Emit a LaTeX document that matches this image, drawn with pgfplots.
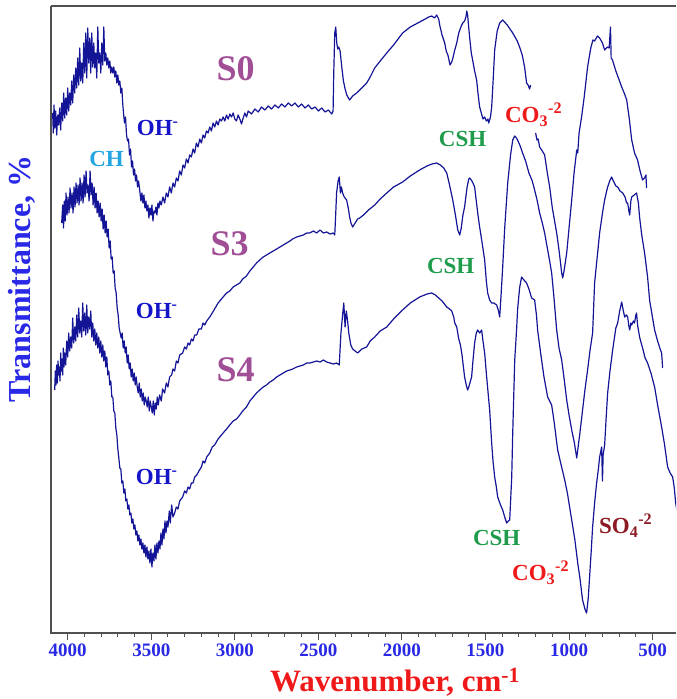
\documentclass[border=0pt]{standalone}
\usepackage{fontspec}
\setmainfont{Liberation Serif}
\usepackage{pgfplots}
\pgfplotsset{compat=1.18}
\usetikzlibrary{calc}
\definecolor{specblue}{RGB}{20,20,150}
\definecolor{slab}{RGB}{160,78,150}
\definecolor{ohblue}{RGB}{20,20,200}
\definecolor{chblue}{RGB}{35,165,225}
\definecolor{cshgreen}{RGB}{30,155,75}
\definecolor{cored}{RGB}{240,25,25}
\definecolor{sodark}{RGB}{140,25,35}
\definecolor{tickblue}{RGB}{40,40,230}
\definecolor{axisgray}{RGB}{80,80,80}
\newcommand{\lab}[1]{\fontsize{#1}{#1}\selectfont\bfseries}
\tikzset{spec/.style={draw=specblue, line width=1.2pt, line join=round, mark=none}}
\begin{document}
\begin{tikzpicture}
\begin{axis}[
  scale only axis, width=625pt, height=627pt,
  xmin=360, xmax=4100, x dir=reverse,
  ymin=0, ymax=627,
  axis line style={draw=none},
  ytick=\empty,
  xtick={500,1000,...,4000},
  minor x tick num=4,
  xtick pos=bottom,
  xtick align=outside,
  major tick length=7pt, minor tick length=4pt,
  every tick/.style={axisgray, line width=1pt},
  xticklabel style={font=\lab{19}, text=tickblue},
  /pgf/number format/1000 sep={},
  /pgf/number format/assume math mode=true,
]
% S0 main
\addplot[spec] table {
4090 520
4086 500
4082 528
4077 505
4072 522
4066 498
4060 518
4054 508
4048 525
4042 503
4036 530
4030 512
4024 540
4018 515
4012 535
4006 518
4000 545
3994 522
3988 540
3982 528
3976 552
3970 530
3964 558
3958 540
3952 565
3946 545
3940 575
3934 548
3928 585
3922 552
3916 570
3910 550
3904 590
3898 560
3892 600
3886 555
3880 605
3874 570
3868 595
3862 560
3856 600
3850 566
3844 590
3838 565
3832 580
3826 555
3820 606
3814 570
3808 580
3802 560
3796 590
3790 568
3784 606
3778 572
3772 580
3766 568
3760 575
3754 565
3748 572
3742 560
3736 566
3730 560
3724 566
3718 556
3712 562
3706 550
3700 558
3694 548
3688 552
3682 540
3676 545
3671 530
3666 520
3660 510
3654 516
3648 498
3642 492
3636 494
3630 478
3624 484
3618 466
3612 472
3606 458
3600 464
3594 452
3588 458
3582 446
3576 452
3570 444
3562 432
3556 440
3550 430
3544 438
3538 425
3532 432
3526 422
3520 428
3514 415
3508 425
3502 418
3496 428
3490 412
3484 422
3478 420
3472 426
3466 418
3460 430
3454 425
3448 432
3440 428
3430 436
3420 430
3410 440
3400 436
3390 446
3380 440
3370 450
3360 446
3350 455
3340 452
3330 462
3320 458
3310 468
3300 465
3290 474
3280 470
3270 478
3260 476
3250 484
3240 480
3230 490
3220 486
3210 494
3200 490
3190 498
3180 495
3170 502
3160 500
3150 506
3140 502
3130 510
3120 506
3110 512
3100 508
3090 514
3080 512
3070 516
3060 512
3050 518
3040 514
3030 519
3020 516
3010 520
3000 514
2990 512
2980 518
2970 514
2960 509
2950 515
2940 520
2930 516
2920 522
2900 519
2880 524
2860 521
2840 526
2820 523
2800 527
2780 524
2760 528
2740 525
2720 529
2700 526
2680 530
2660 527
2640 530
2620 526
2600 529
2580 525
2560 528
2540 524
2520 526
2500 522
2480 525
2460 521
2440 523
2420 519
2412 522
2408 560
2402 600
2396 606
2390 590
2384 584
2378 586
2370 582
2360 566
2350 552
2340 544
2330 538
2313 533
2295 537
2271 540
2240 545
2211 550
2190 556
2163 565
2130 572
2091 580
2050 588
1996 600
1950 606
1894 611
1860 614
1840 616
1822 617
1805 615
1792 618
1780 614
1774 608
1760 598
1744 590
1735 582
1725 578
1712 568
1702 571
1695 575
1684 583
1672 590
1660 600
1645 607
1636 610
1625 612
1617 616
1612 622
1607 618
1600 605
1595 596
1585 580
1577 573
1565 562
1553 553
1545 540
1535 526
1525 520
1515 514
1505 516
1495 512
1485 514
1481 510
1470 516
1463 526
1455 550
1445 583
1430 602
1415 610
1397 613
1370 608
1337 600
1310 592
1296 586
1280 578
1266 566
1254 550
1245 548
1236 544
1230 548
};
% S0 second piece
\addplot[spec] table {
1200 500
1192 493
1185 494
1176 486
1160 482
1146 478
1130 460
1116 446
1100 425
1074 400
1060 383
1044 360
1038 355
1030 362
1014 380
1000 405
984 433
970 460
954 483
948 480
940 500
925 516
910 535
889 566
870 585
857 593
847 592
830 597
817 595
800 590
787 583
770 586
760 585
752 606
748 575
740 573
720 562
700 553
685 546
670 540
655 533
640 515
625 493
608 480
590 473
575 462
560 453
548 455
540 458
536 445
};
% S3
\addplot[spec] table {
4036 410
4030 428
4025 405
4020 432
4015 412
4010 440
4004 418
3998 436
3992 420
3986 445
3980 425
3974 440
3968 420
3962 446
3956 426
3950 450
3944 430
3938 448
3932 428
3926 455
3920 432
3914 450
3908 430
3902 458
3896 436
3890 462
3884 440
3878 448
3872 432
3866 462
3860 438
3854 450
3848 428
3842 446
3836 425
3830 440
3824 420
3818 432
3812 416
3806 430
3800 412
3794 424
3788 404
3782 418
3776 400
3770 412
3764 396
3758 404
3752 385
3746 392
3740 374
3734 376
3728 360
3722 362
3716 345
3710 340
3704 325
3698 318
3692 305
3686 300
3680 295
3674 300
3668 285
3662 292
3656 280
3650 286
3644 270
3638 278
3632 264
3626 270
3620 256
3614 264
3608 252
3602 260
3596 248
3590 256
3584 246
3578 240
3572 250
3566 236
3560 244
3554 232
3548 240
3542 228
3536 236
3530 232
3524 226
3518 236
3512 222
3506 232
3500 226
3494 220
3488 232
3482 218
3476 230
3470 224
3464 236
3458 228
3450 238
3440 232
3432 244
3420 240
3410 250
3400 246
3390 256
3378 258
3370 264
3360 262
3350 272
3340 270
3330 278
3312 280
3300 286
3290 284
3280 290
3270 288
3260 294
3250 292
3240 298
3228 298
3215 304
3200 304
3190 310
3180 308
3168 312
3150 316
3135 320
3121 324
3100 330
3080 334
3060 338
3049 340
3030 342
3010 346
2990 348
2970 350
2953 354
2930 357
2910 362
2890 366
2870 370
2851 373
2830 376
2810 378
2790 380
2770 382
2750 384
2730 386
2710 388
2690 390
2670 392
2654 394
2630 396
2610 397
2590 398
2570 400
2552 400
2530 402
2510 400
2490 403
2470 400
2450 401
2430 399
2410 400
2402 398
2396 420
2391 440
2382 452
2375 456
2368 440
2362 446
2355 440
2345 436
2331 433
2320 424
2313 416
2305 410
2295 406
2280 410
2265 414
2253 415
2230 418
2200 423
2163 428
2130 434
2091 440
2050 446
1996 451
1950 457
1894 463
1850 467
1820 469
1792 470
1770 468
1750 465
1732 460
1715 448
1696 433
1680 418
1666 403
1654 398
1645 405
1635 418
1625 426
1610 446
1600 454
1595 455
1585 453
1575 450
1565 446
1555 432
1545 418
1535 406
1520 390
1505 373
1495 352
1487 340
1475 333
1463 330
1450 330
1433 328
1422 322
1415 316
1406 340
1397 366
1385 405
1367 450
1350 478
1337 493
1325 497
1314 495
1300 490
1290 486
1278 480
1260 472
1240 460
1220 452
1206 443
1190 432
1176 420
1160 410
1146 400
1130 385
1116 372
1104 360
1090 335
1074 303
1060 285
1044 273
1030 255
1014 233
1000 218
984 203
968 190
954 175
948 183
935 200
919 223
905 243
889 263
875 282
859 300
853 325
847 350
835 370
817 400
800 420
787 433
775 442
769 446
757 452
745 456
735 452
720 447
709 446
695 442
679 440
665 436
655 430
649 430
642 422
637 418
630 432
625 436
610 438
596 440
585 430
578 416
565 398
548 380
530 356
518 333
500 315
488 303
470 292
455 284
446 280
440 265
};
% S4
\addplot[spec] table {
4078 243
4074 262
4070 248
4066 268
4062 250
4058 272
4054 258
4050 266
4046 252
4042 280
4038 262
4034 274
4030 258
4026 285
4022 266
4018 280
4012 268
4006 292
4000 276
3994 300
3988 282
3982 296
3976 285
3970 315
3964 290
3958 306
3952 292
3946 318
3940 296
3934 325
3928 300
3922 312
3916 296
3910 330
3904 302
3898 320
3892 298
3886 328
3880 300
3874 316
3868 304
3862 322
3856 296
3850 310
3844 292
3838 304
3832 288
3826 300
3820 285
3814 296
3808 280
3802 292
3796 276
3790 288
3784 272
3778 282
3772 266
3766 276
3760 258
3754 262
3748 248
3742 252
3736 236
3730 236
3724 222
3718 220
3712 205
3706 198
3700 184
3694 175
3688 165
3682 164
3676 150
3670 152
3664 140
3658 144
3652 132
3646 134
3640 124
3634 128
3628 118
3622 120
3616 110
3610 114
3604 104
3598 108
3592 98
3586 102
3580 92
3574 98
3568 88
3562 94
3556 84
3550 90
3544 80
3538 88
3532 76
3526 86
3520 74
3514 82
3508 70
3502 84
3496 66
3490 80
3484 72
3478 88
3472 74
3466 90
3460 80
3454 92
3448 84
3442 100
3436 88
3430 104
3424 94
3418 112
3412 100
3406 112
3400 106
3392 122
3386 110
3378 128
3370 116
3360 120
3350 126
3340 124
3330 132
3312 136
3300 142
3290 140
3280 146
3270 144
3260 150
3250 150
3240 156
3228 158
3215 162
3200 166
3190 172
3180 170
3168 176
3150 180
3135 186
3121 188
3100 194
3080 198
3060 202
3049 204
3030 208
3010 212
2990 214
2970 218
2953 222
2930 226
2910 232
2890 236
2870 240
2851 243
2830 246
2810 248
2790 251
2770 253
2750 256
2730 258
2710 260
2690 262
2670 263
2654 264
2630 266
2610 267
2590 268
2570 270
2552 270
2530 271
2510 272
2490 271
2470 273
2450 271
2430 270
2410 269
2390 270
2375 268
2365 300
2355 318
2348 330
2340 306
2333 322
2325 312
2318 300
2306 288
2295 284
2280 282
2265 280
2240 284
2211 286
2190 292
2163 296
2130 302
2091 306
2050 314
1996 323
1950 330
1894 336
1850 339
1822 340
1800 338
1780 335
1760 332
1732 326
1715 324
1702 322
1690 316
1684 310
1672 306
1660 294
1650 288
1642 280
1632 266
1625 256
1615 248
1607 243
1600 246
1590 252
1583 256
1575 272
1565 290
1555 300
1547 303
1535 300
1523 303
1515 292
1505 280
1493 256
1475 223
1463 190
1455 172
1445 156
1435 146
1427 136
1410 128
1397 123
1385 116
1373 110
1363 112
1355 113
1343 156
1337 200
1325 273
1314 303
1308 323
1296 345
1284 356
1270 353
1254 350
1240 344
1224 335
1206 333
1195 318
1188 303
1170 280
1150 256
1128 236
1116 232
1104 228
1090 212
1068 183
1050 170
1026 153
1010 140
984 113
965 93
948 70
935 55
919 33
905 24
895 20
885 35
877 56
868 80
859 106
847 130
835 150
825 163
817 176
805 186
800 152
796 178
787 188
778 215
769 240
755 262
739 283
720 305
709 310
697 322
685 331
675 322
667 316
657 318
649 316
643 308
637 303
630 310
625 308
615 312
608 310
600 318
596 320
590 308
578 296
560 285
545 275
530 270
510 260
488 246
470 228
446 206
430 190
410 166
395 160
380 156
370 145
362 130
350 118
};
% annotations
\node[font=\lab{36}, text=slab] at (axis cs:2995,564) {S0};
\node[font=\lab{36}, text=slab] at (axis cs:3031,389) {S3};
\node[font=\lab{36}, text=slab] at (axis cs:2995,263) {S4};
\node[font=\lab{23}, text=ohblue] at (axis cs:3461,505) {OH\textsuperscript{-}};
\node[font=\lab{23}, text=chblue] at (axis cs:3767,474) {CH};
\node[font=\lab{23}, text=ohblue] at (axis cs:3467,322) {OH\textsuperscript{-}};
\node[font=\lab{23}, text=ohblue] at (axis cs:3467,156) {OH\textsuperscript{-}};
\node[font=\lab{23}, text=cshgreen] at (axis cs:1637,494) {CSH};
\node[font=\lab{23}, text=cshgreen] at (axis cs:1708,367) {CSH};
\node[font=\lab{23}, text=cshgreen] at (axis cs:1433,95) {CSH};
\node[font=\lab{23}, text=cored] at (axis cs:1212,518) {CO\textsubscript{3}\textsuperscript{-2}};
\node[font=\lab{23}, text=cored] at (axis cs:1170,60) {CO\textsubscript{3}\textsuperscript{-2}};
\node[font=\lab{23}, text=sodark] at (axis cs:661,107) {SO\textsubscript{4}\textsuperscript{-2}};
\coordinate (BL) at (axis cs:4100,0);
\coordinate (BR) at (axis cs:360,0);
\coordinate (TL) at (axis cs:4100,627);
\coordinate (TR) at (axis cs:360,627);
\end{axis}
\draw[axisgray, line width=1.2pt] (BR) -- (BL) -- (TL);
\draw[axisgray, line width=1.8pt] (TL) -- (TR);
\node[font=\lab{31}, text=cored] at ([xshift=344pt,yshift=-49pt]BL) {Wavenumber, cm\textsuperscript{-1}};
\node[font=\lab{32}, text=tickblue, rotate=90] at ([xshift=-29pt,yshift=354pt]BL) {Transmittance, \%};
\pgfresetboundingbox
\path ([xshift=-51pt,yshift=-66pt]BL) rectangle ([yshift=6pt]TR);
\end{tikzpicture}
\end{document}
